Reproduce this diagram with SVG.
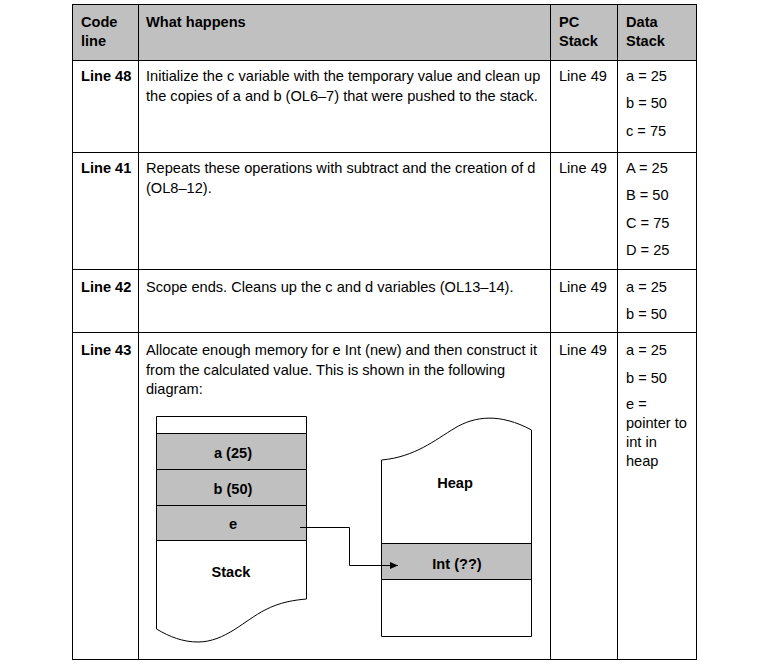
<svg xmlns="http://www.w3.org/2000/svg" width="769" height="665" viewBox="0 0 769 665">
<style>
.t{font-family:"Liberation Sans",Arial,sans-serif;font-size:14.6px;fill:#000}
.b{font-weight:bold}
.c{text-anchor:middle}
.ln{stroke:#000;stroke-width:1;fill:none}
.g{fill:#C0C0C0}
</style>
<defs>
<marker id="arr" markerWidth="8" markerHeight="8" refX="8" refY="4" orient="auto" markerUnits="userSpaceOnUse">
<path d="M0,0.5 L8,4 L0,7.5 Z" fill="#000"/>
</marker>
</defs>
<rect width="769" height="665" fill="#fff"/>
<g id="table">
<rect x="72.5" y="4.5" width="624" height="55.5" class="g"/>
<rect x="72.5" y="4.5" width="624" height="655" class="ln"/>
<path class="ln" d="M72.5,60.5H696.5M72.5,152.5H696.5M72.5,269.5H696.5M72.5,332.5H696.5M138.5,4.5V659.5M550.5,4.5V659.5M617.5,4.5V659.5"/>
</g>
<g id="header">
<text class="t b" x="81" y="27">Code</text>
<text class="t b" x="81" y="46">line</text>
<text class="t b" x="146" y="27">What happens</text>
<text class="t b" x="559" y="27">PC</text>
<text class="t b" x="559" y="46">Stack</text>
<text class="t b" x="626" y="27">Data</text>
<text class="t b" x="626" y="46">Stack</text>
</g>
<g id="row48">
<text class="t b" x="81" y="80.5">Line 48</text>
<text class="t" x="146" y="80.5">Initialize the c variable with the temporary value and clean up</text>
<text class="t" x="146" y="100.5">the copies of a and b (OL6–7) that were pushed to the stack.</text>
<text class="t" x="559" y="80.5">Line 49</text>
<text class="t" x="626" y="80.5">a = 25</text>
<text class="t" x="626" y="108">b = 50</text>
<text class="t" x="626" y="136">c = 75</text>
</g>
<g id="row41">
<text class="t b" x="81" y="172.5">Line 41</text>
<text class="t" x="146" y="172.5">Repeats these operations with subtract and the creation of d</text>
<text class="t" x="146" y="192.5">(OL8–12).</text>
<text class="t" x="559" y="172.5">Line 49</text>
<text class="t" x="626" y="172.5">A = 25</text>
<text class="t" x="626" y="200">B = 50</text>
<text class="t" x="626" y="227.5">C = 75</text>
<text class="t" x="626" y="255">D = 25</text>
</g>
<g id="row42">
<text class="t b" x="81" y="291.5">Line 42</text>
<text class="t" x="146" y="291.5">Scope ends. Cleans up the c and d variables (OL13–14).</text>
<text class="t" x="559" y="291.5">Line 49</text>
<text class="t" x="626" y="291.5">a = 25</text>
<text class="t" x="626" y="318.5">b = 50</text>
</g>
<g id="row43">
<text class="t b" x="81" y="355">Line 43</text>
<text class="t" x="146" y="355">Allocate enough memory for e Int (new) and then construct it</text>
<text class="t" x="146" y="374.5">from the calculated value. This is shown in the following</text>
<text class="t" x="146" y="394">diagram:</text>
<text class="t" x="559" y="355">Line 49</text>
<text class="t" x="626" y="355">a = 25</text>
<text class="t" x="626" y="382.5">b = 50</text>
<text class="t" x="626" y="409">e =</text>
<text class="t" x="626" y="428">pointer to</text>
<text class="t" x="626" y="447">int in</text>
<text class="t" x="626" y="466">heap</text>
</g>
<g id="stack">
<rect x="156.5" y="433.5" width="150" height="107" class="g"/>
<path class="ln" d="M156.5,629 V416.5 H306.5 V599 C295,600 280,602 265,610 C245,620 225,642 198,642 C183,642 170,637 156.5,629 Z"/>
<path class="ln" d="M156.5,433.5H306.5M156.5,469.5H306.5M156.5,505.5H306.5M156.5,540.5H306.5"/>
<text class="t b c" x="233" y="458">a (25)</text>
<text class="t b c" x="233" y="493.5">b (50)</text>
<text class="t b c" x="233" y="528.5">e</text>
<text class="t b c" x="231" y="577">Stack</text>
</g>
<g id="heap">
<rect x="381.5" y="543.5" width="150" height="36" class="g"/>
<path class="ln" d="M381.5,460 C415,457 435,440 455,428 C475,416 500,413 531.5,430 V636.5 H381.5 Z"/>
<path class="ln" d="M381.5,543.5H531.5M381.5,579.5H531.5"/>
<text class="t b c" x="455" y="488">Heap</text>
<text class="t b c" x="457" y="569">Int (??)</text>
</g>
<g id="connectors">
<path class="ln" d="M300,527.5 H349.5 V565.5 H398" marker-end="url(#arr)"/>
</g>
</svg>
